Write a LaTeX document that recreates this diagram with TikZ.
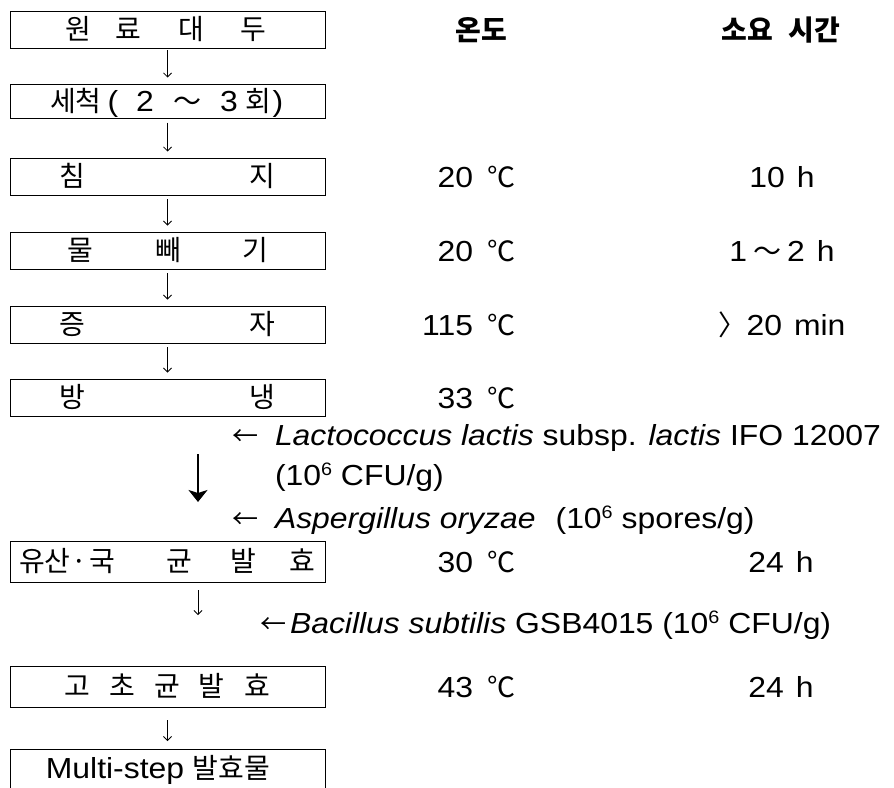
\documentclass[tikz,border=0pt]{standalone}
\usepackage{fontspec}
\setmainfont{Liberation Sans}[FakeStretch=1.1]
\newfontfamily\kr{Noto Sans CJK KR}
\usetikzlibrary{arrows.meta}
\newcommand\at[2]{\rlap{\hspace*{#1pt}\makebox[0pt]{\smash{#2}}}}
\newcommand\krsize{\fontsize{28}{32}\selectfont}
\newcommand\lat{\rmfamily\fontsize{29}{34}\selectfont}
\newcommand\supsix{\raisebox{10pt}{\fontsize{18}{18}\selectfont 6}}
\newcommand\boxtext[1]{\hbox to 315pt{\rule[-3.5pt]{0pt}{26pt}#1\hfill}}
\begin{document}
\begin{tikzpicture}[x=1pt,y=-1pt,
  stepbox/.style={draw,line width=0.8pt,minimum width=315pt,inner sep=0pt,outer sep=0pt},
  lbl/.style={inner sep=0pt,outer sep=0pt},
  flow/.style={-{Straight Barb[length=4pt,width=8pt]},line width=0.8pt,shorten <=4pt,shorten >=6.5pt},
  bigflow/.style={-{Stealth[length=12pt,width=19pt,inset=3pt]},line width=1.8pt}]
\clip (0,0) rectangle (894,787);
% boxes
\node[stepbox,minimum height=37pt] (b1) at (167.5,29.5)
  {\boxtext{\krsize\kr\at{68}{원}\at{118}{료}\at{181}{대}\at{243}{두}}};
\node[stepbox,minimum height=34pt] (b2) at (167.5,101.5)
  {\boxtext{\krsize\kr\at{53}{세}\at{78}{척}\at{103}{\lat(}\at{135}{\lat 2}\at{177}{～}\at{219}{\lat 3}\at{248}{회}\at{268}{\lat)}}};
\node[stepbox,minimum height=37pt] (b3) at (167.5,176.5)
  {\boxtext{\krsize\kr\at{62}{침}\at{252}{지}}};
\node[stepbox,minimum height=37pt] (b4) at (167.5,250.5)
  {\boxtext{\krsize\kr\at{70}{물}\at{158}{빼}\at{245}{기}}};
\node[stepbox,minimum height=37pt] (b5) at (167.5,324.5)
  {\boxtext{\krsize\kr\at{62}{증}\at{252}{자}}};
\node[stepbox,minimum height=37pt] (b6) at (167.5,397.5)
  {\boxtext{\krsize\kr\at{62}{방}\at{252}{냉}}};
\node[stepbox,minimum height=41pt] (b7) at (167.5,561.5)
  {\boxtext{\krsize\kr\at{22}{유}\at{47}{산}\at{69}{·}\at{92}{국}\at{169}{균}\at{233}{발}\at{292}{효}}};
\node[stepbox,minimum height=41pt] (b8) at (167.5,686.5)
  {\boxtext{\krsize\kr\at{67}{고}\at{112}{초}\at{157}{균}\at{201}{발}\at{247}{효}}};
\node[stepbox,minimum height=40pt] (b9) at (167.5,769)
  {\boxtext{\krsize\kr\at{105}{\lat Multi-step}\at{195}{발}\at{221}{효}\at{247}{물}}};
% connectors
\coordinate (bx) at (198,0);
\draw[flow,shorten <=2pt,shorten >=7pt] (b1.south) -- (b2.north);
\draw[flow] (b2.south) -- (b3.north);
\draw[flow] (b3.south) -- (b4.north);
\draw[flow] (b4.south) -- (b5.north);
\draw[flow] (b5.south) -- (b6.north);
\draw[bigflow,shorten <=38pt,shorten >=39pt] (b6.south -| bx) -- (b7.north -| bx);
\draw[flow,shorten <=8pt,shorten >=51pt] (b7.south -| bx) -- (b8.north -| bx);
\draw[flow,shorten <=13pt,shorten >=8pt] (b8.south) -- (b9.north);
% headers
\node[lbl] (h1) at (481,30) {\fontsize{28}{32}\selectfont\kr\bfseries 온도};
\node[lbl] (h2) at (781,30) {\fontsize{28}{32}\selectfont\kr\bfseries 소요\hspace{16pt}시간};
% temperatures
\node[lbl,anchor=base east] (t3) at (515,187) {\lat 20\hspace{14pt}{\krsize\kr ℃}};
\node[lbl,anchor=base east] (t4) at (515,261) {\lat 20\hspace{14pt}{\krsize\kr ℃}};
\node[lbl,anchor=base east] (t5) at (515,335) {\lat 115\hspace{14pt}{\krsize\kr ℃}};
\node[lbl,anchor=base east] (t6) at (515,408) {\lat 33\hspace{14pt}{\krsize\kr ℃}};
\node[lbl,anchor=base east] (t7) at (515,572) {\lat 30\hspace{14pt}{\krsize\kr ℃}};
\node[lbl,anchor=base east] (t8) at (515,697) {\lat 43\hspace{14pt}{\krsize\kr ℃}};
% times
\node[lbl,anchor=base] (m3) at (782,187) {\lat 10\hspace{12pt}h};
\node[lbl,anchor=base] (m4) at (782,261) {\lat 1\hspace{6pt}{\krsize\kr ～}\hspace{6pt}2\hspace{12pt}h};
\node[lbl,anchor=base] (m5) at (782,335) {\lat{\krsize\kr 〉}20\hspace{12pt}min};
\node[lbl,anchor=base] (m7) at (781,572) {\lat 24\hspace{12pt}h};
\node[lbl,anchor=base] (m8) at (781,697) {\lat 24\hspace{12pt}h};
% inocula
\node[lbl,anchor=base west] (i1) at (232,445)
  {\lat\makebox[43pt][l]{\fontsize{26}{30}\selectfont\kr ←}\textit{Lactococcus lactis} subsp. \textit{lactis} IFO 12007};
\node[lbl,anchor=base west] (i2) at (275,485) {\lat (10\supsix\ CFU/g)};
\node[lbl,anchor=base west] (i3) at (232,528)
  {\lat\makebox[43pt][l]{\fontsize{26}{30}\selectfont\kr ←}\textit{Aspergillus oryzae}\hspace{20pt}(10\supsix\ spores/g)};
\node[lbl,anchor=base west] (i4) at (260,633)
  {\lat\makebox[30pt][l]{\fontsize{26}{30}\selectfont\kr ←}\textit{Bacillus subtilis} GSB4015 (10\supsix\ CFU/g)};
\end{tikzpicture}
\end{document}
